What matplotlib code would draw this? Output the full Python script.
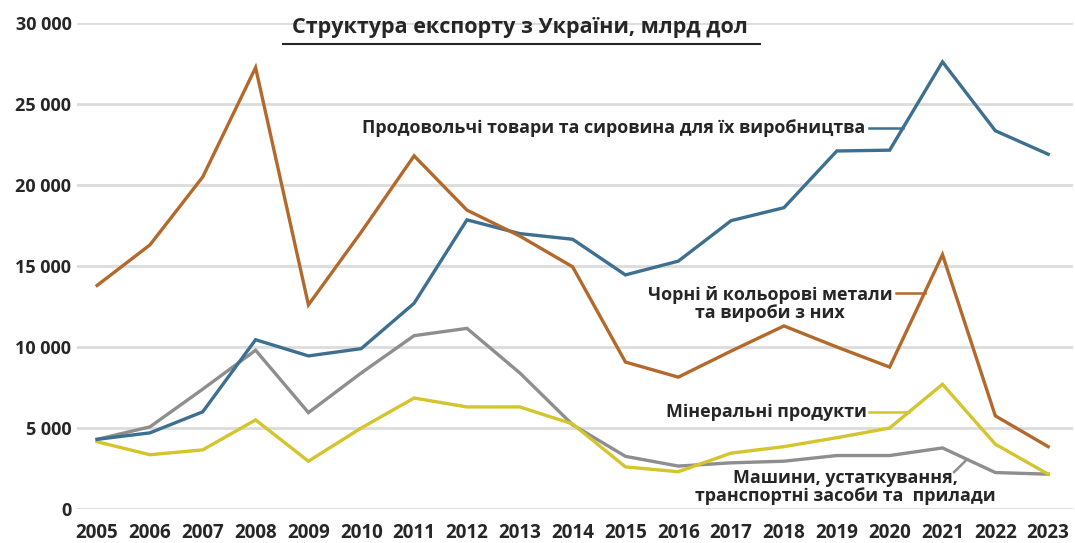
import matplotlib
matplotlib.use("Agg")
import matplotlib.pyplot as plt
from matplotlib.ticker import FuncFormatter
from matplotlib.lines import Line2D

years = list(range(2005, 2024))
food = [4300, 4700, 6000, 10450, 9450, 9900, 12700, 17850, 17000, 16650, 14450, 15300,
        17800, 18600, 22100, 22150, 27600, 23350, 21900]
metals = [13800, 16300, 20500, 27250, 12600, 17100, 21800, 18450, 16850, 14950, 9070, 8140,
          9750, 11300, 10000, 8760, 15700, 5750, 3850]
machinery = [4300, 5070, 7400, 9800, 5950, 8400, 10700, 11150, 8400, 5200, 3250, 2650,
             2850, 2950, 3300, 3300, 3770, 2250, 2150]
minerals = [4150, 3350, 3650, 5500, 2950, 5000, 6850, 6300, 6300, 5250, 2600, 2300,
            3450, 3850, 4400, 5000, 7700, 4000, 2150]

title = "Структура експорту з України, млрд дол"
lbl_food = "Продовольчі товари та сировина для їх виробництва"
lbl_metals = "Чорні й кольорові метали\nта вироби з них"
lbl_minerals = "Мінеральні продукти"
lbl_machinery = "Машини, устаткування,\nтранспортні засоби та  прилади"

c_food = "#3d6f90"
c_metals = "#b3692c"
c_machinery = "#8e8e8e"
c_minerals = "#d3c52b"

plt.rcParams['font.family'] = ['Open Sans', 'DejaVu Sans']

W, H = 1075, 543
fig = plt.figure(figsize=(W / 100, H / 100), dpi=100)
fig.patch.set_facecolor("white")
left, right, top, bottom = 77, 1073, 23, 509
ax = fig.add_axes([left / W, (H - bottom) / H, (right - left) / W, (bottom - top) / H])

ax.set_xlim(2004.62, 2023.47)
ax.set_ylim(0, 30000)
ax.set_yticks(range(0, 30001, 5000))
ax.set_xticks(years)
ax.yaxis.set_major_formatter(FuncFormatter(lambda v, p: f"{int(v):,}".replace(",", " ")))
ax.grid(axis="y", color="#dcdcdc", linewidth=2)
ax.set_axisbelow(True)
for s in ax.spines.values():
    s.set_visible(False)
ax.tick_params(axis="both", length=0, labelsize=13, colors="#262626")
ax.tick_params(axis="x", labelsize=13.5)
ax.tick_params(axis="y", pad=4)
ax.tick_params(axis="x", pad=10)
for t in ax.get_xticklabels() + ax.get_yticklabels():
    t.set_fontweight("bold")

for vals, col in [(machinery, c_machinery), (minerals, c_minerals), (food, c_food), (metals, c_metals)]:
    ax.plot(years, vals, color=col, linewidth=2.4, solid_joinstyle="miter", zorder=3)

fs = 12.9
ax.text(2019.54, 23520, lbl_food, ha="right", va="center", fontsize=fs, fontweight="bold", color="#262626")
ax.plot([2019.6, 2020.25], [23520, 23520], color=c_food, linewidth=1.8, zorder=3)

ax.text(2017.74, 12650, lbl_metals, ha="center", va="center", fontsize=fs, fontweight="bold",
        color="#262626", linespacing=1.05)
ax.plot([2020.12, 2020.66], [13330, 13330], color=c_metals, linewidth=1.8, zorder=3)

ax.text(2019.56, 5990, lbl_minerals, ha="right", va="center", fontsize=fs, fontweight="bold", color="#262626")
ax.plot([2019.6, 2020.37], [5990, 5990], color=c_minerals, linewidth=1.8, zorder=3)

ax.text(2019.16, 1360, lbl_machinery, ha="center", va="center", fontsize=fs, fontweight="bold",
        color="#262626", linespacing=0.98)
ax.plot([2021.22, 2021.46], [2280, 3050], color=c_machinery, linewidth=1.8, zorder=3)

fig.text((292 + 748) / 2 / W, 1 - 28 / H, title, ha="center", va="center", fontsize=15.5,
         fontweight="bold", color="#262626")
fig.add_artist(Line2D([283 / W, 760 / W], [1 - 44 / H, 1 - 44 / H], color="#262626", linewidth=1.5))

fig.savefig("out.png", dpi=100)
